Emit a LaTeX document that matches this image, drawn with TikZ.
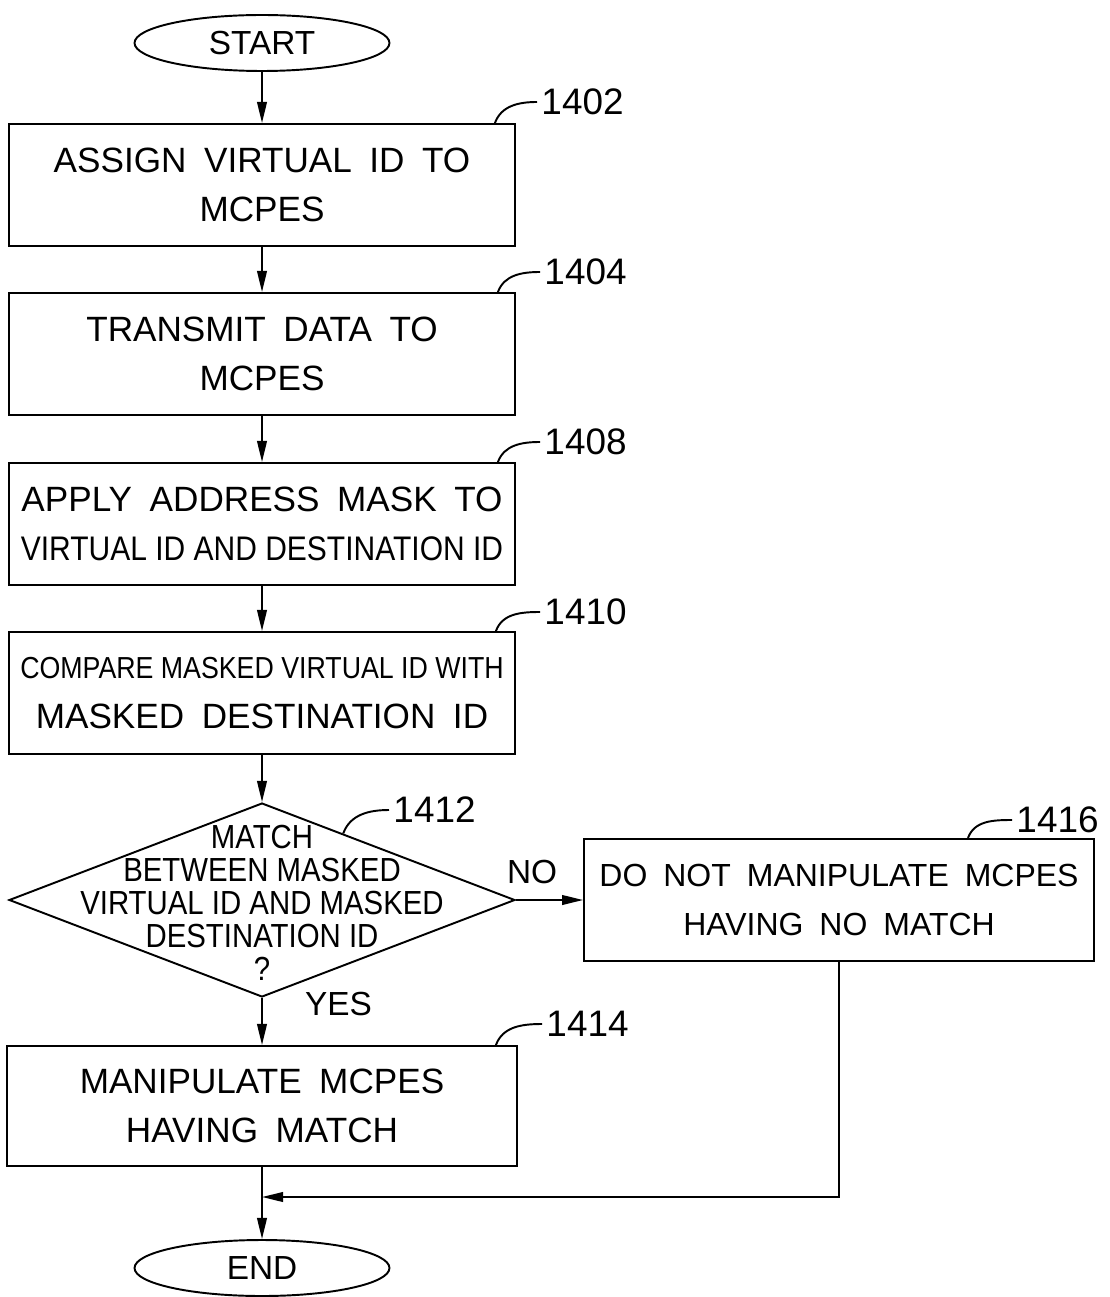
\documentclass[tikz,border=0pt]{standalone}
\usepackage{fontspec}
\setmainfont{Liberation Sans}[WordSpace=1.8]
\newfontfamily\narrowsf[FakeStretch=0.88]{Liberation Sans}
\usepackage{tikz}
\usetikzlibrary{arrows.meta,positioning,calc,shapes.geometric}

\begin{document}
\begin{tikzpicture}[x=0.02cm, y=-0.02cm, line width=1.1pt, >={Triangle[length=12pt,width=5.5pt]},
  term/.style={ellipse, draw, minimum width=5.1cm, minimum height=1.12cm, inner sep=0pt, font=\fontsize{19}{22}\selectfont},
  proc/.style={draw, minimum width=10.12cm, minimum height=2.44cm, align=center, inner sep=0pt, font=\fontsize{20}{28.3}\selectfont},
  query/.style={diamond, draw, minimum width=10.12cm, minimum height=3.88cm, inner sep=0pt},
  ref/.style={anchor=west, inner sep=2pt, font=\fontsize{21}{24}\selectfont},
  lbl/.style={inner sep=0pt, font=\fontsize{19}{22}\selectfont}]
\useasboundingbox (0,0) rectangle (1109,1297);
\node[term] (start) at (262,43) {START};
\node[proc] (s1) at (262,185) {ASSIGN VIRTUAL ID TO\\MCPES};
\node[proc] (s2) at (262,354) {TRANSMIT DATA TO\\MCPES};
\node[proc] (s3) at (262,524) {APPLY ADDRESS MASK TO\\{\narrowsf\fontsize{19.4}{28.3}\selectfont VIRTUAL ID AND DESTINATION ID}};
\node[proc] (s4) at (262,693) {{\narrowsf\fontsize{17.3}{28.3}\selectfont COMPARE MASKED VIRTUAL ID WITH}\\MASKED DESTINATION ID};
\node[query] (dec) at (262,900) {};
\node[align=center, inner sep=0pt, font=\narrowsf\fontsize{19}{18.7}\selectfont] (dectxt) at (262,903) {MATCH\\BETWEEN MASKED\\VIRTUAL ID AND MASKED\\DESTINATION ID\\?};
\node[proc, minimum width=10.2cm, font=\fontsize{18.2}{28.3}\selectfont] (s16) at (839,900) {DO NOT MANIPULATE MCPES\\HAVING NO MATCH};
\node[proc, minimum width=10.2cm, minimum height=2.4cm] (s14) at (262,1106) {MANIPULATE MCPES\\HAVING MATCH};
\node[term] (end) at (262,1268) {END};
\coordinate (join) at (262,1197);

\node[ref] (n1402) at (537,102) {1402};
\node[ref] (n1404) at (540,272) {1404};
\node[ref] (n1408) at (540,442) {1408};
\node[ref] (n1410) at (540,612) {1410};
\node[ref] (n1412) at (389,810) {1412};
\node[ref] (n1416) at (1012,820) {1416};
\node[ref] (n1414) at (542,1024) {1414};

\draw[->] (start) -- (s1);
\draw[->] (s1) -- (s2);
\draw[->] (s2) -- (s3);
\draw[->] (s3) -- (s4);
\draw[->] (s4) -- (dec);
\draw[->] (dec.east) -- node[lbl, above=8.5pt, pos=0.24]{NO} (s16.west);
\draw[->] (dec.south) -- node[lbl, anchor=west, right=24pt, pos=0.12]{YES} (s14);
\draw[->] (s16.south) |- (join);
\draw[->] (s14) -- (end);

\draw (n1402.west) to[out=180,in=70] ([xshift=-0.42cm]s1.north east);
\draw (n1404.west) to[out=180,in=70] ([xshift=-0.36cm]s2.north east);
\draw (n1408.west) to[out=180,in=70] ([xshift=-0.36cm]s3.north east);
\draw (n1410.west) to[out=180,in=70] ([xshift=-0.4cm]s4.north east);
\draw (n1412.west) to[out=180,in=70] ($(dec.north)!0.32!(dec.east)$);
\draw (n1416.west) to[out=180,in=70] ([xshift=-2.54cm]s16.north east);
\draw (n1414.west) to[out=180,in=70] ([xshift=-0.44cm]s14.north east);
\end{tikzpicture}
\end{document}
